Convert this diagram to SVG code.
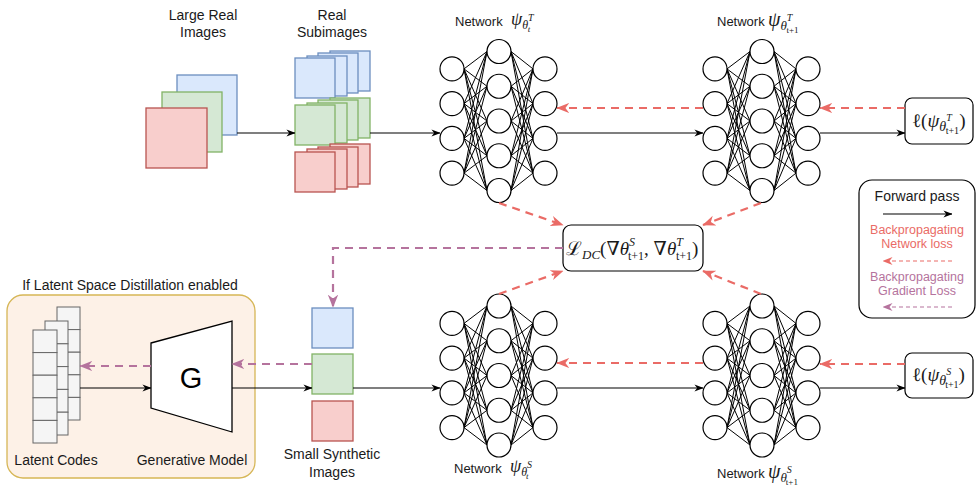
<svg xmlns="http://www.w3.org/2000/svg" xmlns:xlink="http://www.w3.org/1999/xlink" width="980" height="489" viewBox="0 0 980 489">
<style>
.t{font-family:"Liberation Sans",Arial,sans-serif;font-size:14px;fill:#1a1a1a}
.tn{font-family:"Liberation Sans",Arial,sans-serif;font-size:13px;fill:#1a1a1a}
.m{font-family:"Liberation Serif","DejaVu Serif",serif;fill:#1a1a1a}
.i{font-style:italic}
.blue{fill:#dae8fc;stroke:#6c8ebf;stroke-width:1.3}
.green{fill:#d5e8d4;stroke:#82b366;stroke-width:1.3}
.red{fill:#f8cecc;stroke:#b85450;stroke-width:1.3}
.cell{fill:#f5f5f5;stroke:#666;stroke-width:1}
.box{fill:#fff;stroke:#000;stroke-width:1.2}
.fw{fill:none;stroke:#000;stroke-width:1.2}
.bn{fill:none;stroke:#ea6b66;stroke-width:2.2;stroke-dasharray:8 6}
.bg{fill:none;stroke:#b5739d;stroke-width:2.2;stroke-dasharray:8 6}
.nc{fill:#fff;stroke:#000;stroke-width:1.2}
.nl{stroke:#000;stroke-width:1}
</style>
<defs>
<marker id="ab" viewBox="0 0 10 10" refX="9.5" refY="5" markerWidth="9" markerHeight="9" markerUnits="userSpaceOnUse" orient="auto"><path d="M0,1 L10,5 L0,9 L3,5 z" fill="#000"/></marker>
<marker id="ar" viewBox="0 0 10 10" refX="9.5" refY="5" markerWidth="13" markerHeight="13" markerUnits="userSpaceOnUse" orient="auto"><path d="M0,1 L10,5 L0,9 L3,5 z" fill="#ea6b66"/></marker>
<marker id="ap" viewBox="0 0 10 10" refX="9.5" refY="5" markerWidth="13" markerHeight="13" markerUnits="userSpaceOnUse" orient="auto"><path d="M0,1 L10,5 L0,9 L3,5 z" fill="#b5739d"/></marker>
<marker id="ars" viewBox="0 0 10 10" refX="9.5" refY="5" markerWidth="10" markerHeight="10" markerUnits="userSpaceOnUse" orient="auto"><path d="M0,1 L10,5 L0,9 L3,5 z" fill="#ea6b66"/></marker>
<marker id="aps" viewBox="0 0 10 10" refX="9.5" refY="5" markerWidth="10" markerHeight="10" markerUnits="userSpaceOnUse" orient="auto"><path d="M0,1 L10,5 L0,9 L3,5 z" fill="#b5739d"/></marker>
<g id="net">
<g class="nl">
<path d="M12,17.4L35,0M12,17.4L35,34.75M12,17.4L35,69.5M12,17.4L35,104.25M12,17.4L35,139
M12,52.1L35,0M12,52.1L35,34.75M12,52.1L35,69.5M12,52.1L35,104.25M12,52.1L35,139
M12,86.9L35,0M12,86.9L35,34.75M12,86.9L35,69.5M12,86.9L35,104.25M12,86.9L35,139
M12,121.6L35,0M12,121.6L35,34.75M12,121.6L35,69.5M12,121.6L35,104.25M12,121.6L35,139
M59,0L81,17.4M59,34.75L81,17.4M59,69.5L81,17.4M59,104.25L81,17.4M59,139L81,17.4
M59,0L81,52.1M59,34.75L81,52.1M59,69.5L81,52.1M59,104.25L81,52.1M59,139L81,52.1
M59,0L81,86.9M59,34.75L81,86.9M59,69.5L81,86.9M59,104.25L81,86.9M59,139L81,86.9
M59,0L81,121.6M59,34.75L81,121.6M59,69.5L81,121.6M59,104.25L81,121.6M59,139L81,121.6"/>
</g>
<circle class="nc" cx="0" cy="17.4" r="12"/><circle class="nc" cx="0" cy="52.1" r="12"/><circle class="nc" cx="0" cy="86.9" r="12"/><circle class="nc" cx="0" cy="121.6" r="12"/>
<circle class="nc" cx="47" cy="0" r="12"/><circle class="nc" cx="47" cy="34.75" r="12"/><circle class="nc" cx="47" cy="69.5" r="12"/><circle class="nc" cx="47" cy="104.25" r="12"/><circle class="nc" cx="47" cy="139" r="12"/>
<circle class="nc" cx="93" cy="17.4" r="12"/><circle class="nc" cx="93" cy="52.1" r="12"/><circle class="nc" cx="93" cy="86.9" r="12"/><circle class="nc" cx="93" cy="121.6" r="12"/>
</g>
</defs>
<rect width="980" height="489" fill="#fff"/>

<!-- Large real images -->
<g id="large-real">
<rect class="blue" x="177" y="75" width="60" height="60"/>
<rect class="green" x="162" y="92" width="60" height="60"/>
<rect class="red" x="146" y="108" width="61" height="60"/>
<text class="t" x="203" y="19.5" text-anchor="middle">Large Real</text>
<text class="t" x="203" y="36.5" text-anchor="middle">Images</text>
</g>

<!-- Real subimages -->
<g id="real-sub">
<rect class="blue" x="330" y="51" width="40" height="40"/><rect class="blue" x="318" y="53" width="40" height="40"/><rect class="blue" x="307" y="56" width="40" height="40"/><rect class="blue" x="295" y="58" width="40" height="40"/>
<rect class="green" x="330" y="98" width="40" height="40"/><rect class="green" x="318" y="100" width="40" height="40"/><rect class="green" x="307" y="103" width="40" height="40"/><rect class="green" x="295" y="105" width="40" height="40"/>
<rect class="red" x="330" y="144" width="40" height="40"/><rect class="red" x="318" y="147" width="40" height="40"/><rect class="red" x="307" y="149" width="40" height="40"/><rect class="red" x="295" y="152" width="40" height="40"/>
<text class="t" x="332" y="19.5" text-anchor="middle">Real</text>
<text class="t" x="332" y="36.5" text-anchor="middle">Subimages</text>
</g>

<!-- Networks -->
<g id="net-t"><use xlink:href="#net" href="#net" x="452" y="51.5"/>
<text class="tn" x="455" y="26">Network</text>
<text class="m i" x="511" y="25" font-size="18">ψ<tspan font-size="12" dy="4">θ</tspan><tspan font-size="10" dy="-8">T</tspan><tspan font-size="9" dx="-6" dy="11">t</tspan></text>
</g>
<g id="net-t1"><use xlink:href="#net" href="#net" x="715" y="51.5"/>
<text class="tn" x="717" y="26">Network</text>
<text class="m i" x="768" y="26" font-size="20">ψ<tspan font-size="13" dy="4">θ</tspan><tspan font-size="10" dy="-9">T</tspan><tspan font-size="9" dx="-6" dy="12" font-style="normal">t+1</tspan></text>
</g>
<g id="net-s"><use xlink:href="#net" href="#net" x="452" y="306"/>
<text class="tn" x="454" y="473">Network</text>
<text class="m i" x="510" y="472" font-size="18">ψ<tspan font-size="12" dy="4">θ</tspan><tspan font-size="10" dy="-8">S</tspan><tspan font-size="9" dx="-6" dy="11">t</tspan></text>
</g>
<g id="net-s1"><use xlink:href="#net" href="#net" x="715" y="306"/>
<text class="tn" x="717" y="478">Network</text>
<text class="m i" x="768" y="478" font-size="20">ψ<tspan font-size="13" dy="4">θ</tspan><tspan font-size="10" dy="-9">S</tspan><tspan font-size="9" dx="-6" dy="12" font-style="normal">t+1</tspan></text>
</g>

<!-- Loss boxes -->
<g id="loss-t">
<rect class="box" x="905" y="98" width="68" height="46" rx="7"/>
<text class="m" x="912" y="127" font-size="19">ℓ(<tspan class="i">ψ</tspan><tspan class="i" font-size="14" dy="4">θ</tspan><tspan class="i" font-size="10" dy="-10">T</tspan><tspan font-size="10" dx="-6" dy="13">t+1</tspan><tspan dy="-7">)</tspan></text>
</g>
<g id="loss-s">
<rect class="box" x="905" y="353" width="68" height="45" rx="7"/>
<text class="m" x="912" y="381" font-size="19">ℓ(<tspan class="i">ψ</tspan><tspan class="i" font-size="14" dy="4">θ</tspan><tspan class="i" font-size="10" dy="-10">S</tspan><tspan font-size="10" dx="-6" dy="13">t+1</tspan><tspan dy="-7">)</tspan></text>
</g>

<!-- Central DC loss -->
<g id="dc-loss">
<rect class="box" x="563" y="225" width="140" height="46" rx="8"/>
<text class="m" x="566" y="255" font-size="19">ℒ<tspan class="i" font-size="13" dy="4">DC</tspan><tspan dy="-4">(∇</tspan><tspan class="i">θ</tspan><tspan class="i" font-size="12" dy="-9">S</tspan><tspan font-size="12" dx="-7" dy="14">t+1</tspan><tspan dy="-5">, ∇</tspan><tspan class="i">θ</tspan><tspan class="i" font-size="12" dy="-9">T</tspan><tspan font-size="12" dx="-7" dy="14">t+1</tspan><tspan dy="-5">)</tspan></text>
</g>

<!-- Legend -->
<g id="legend">
<rect class="box" x="859" y="180" width="116" height="138" rx="13"/>
<text class="t" x="917" y="201" text-anchor="middle">Forward pass</text>
<line class="fw" x1="883" y1="214" x2="952" y2="214" marker-end="url(#ab)"/>
<text x="917" y="234" text-anchor="middle" style="font-family:'Liberation Sans',Arial,sans-serif;font-size:12.5px;fill:#ea6b66">Backpropagating</text>
<text x="917" y="248" text-anchor="middle" style="font-family:'Liberation Sans',Arial,sans-serif;font-size:12.5px;fill:#ea6b66">Network loss</text>
<line x1="952" y1="261" x2="883" y2="261" stroke="#ea6b66" stroke-width="1.2" stroke-dasharray="4 3" marker-end="url(#ars)"/>
<text x="917" y="281" text-anchor="middle" style="font-family:'Liberation Sans',Arial,sans-serif;font-size:12.5px;fill:#b5739d">Backpropagating</text>
<text x="917" y="295" text-anchor="middle" style="font-family:'Liberation Sans',Arial,sans-serif;font-size:12.5px;fill:#b5739d">Gradient Loss</text>
<line x1="952" y1="307" x2="883" y2="307" stroke="#b5739d" stroke-width="1.2" stroke-dasharray="4 3" marker-end="url(#aps)"/>
</g>

<!-- Latent space container -->
<g id="latent-container">
<rect x="7" y="295" width="248" height="183" rx="16" fill="#fdf1e7" stroke="#d6b656" stroke-width="1.3"/>
<text class="t" x="130" y="290" text-anchor="middle">If Latent Space Distillation enabled</text>
</g>
<g id="latent-codes">
<rect class="cell" x="57" y="307" width="23" height="22.6"/><rect class="cell" x="57" y="329.6" width="23" height="22.6"/><rect class="cell" x="57" y="352.2" width="23" height="22.6"/><rect class="cell" x="57" y="374.8" width="23" height="22.6"/><rect class="cell" x="57" y="397.4" width="23" height="22.6"/>
<rect class="cell" x="45" y="321" width="23" height="22.8"/><rect class="cell" x="45" y="343.8" width="23" height="22.8"/><rect class="cell" x="45" y="366.6" width="23" height="22.8"/><rect class="cell" x="45" y="389.4" width="23" height="22.8"/><rect class="cell" x="45" y="412.2" width="23" height="22.8"/>
<rect class="cell" x="33" y="330" width="24" height="22.6"/><rect class="cell" x="33" y="352.6" width="24" height="22.6"/><rect class="cell" x="33" y="375.2" width="24" height="22.6"/><rect class="cell" x="33" y="397.8" width="24" height="22.6"/><rect class="cell" x="33" y="420.4" width="24" height="22.6"/>
<text class="t" x="56" y="464.5" text-anchor="middle">Latent Codes</text>
</g>
<g id="generator">
<path d="M151,343 L232,321 L232,432 L151,408 Z" fill="#fff" stroke="#000" stroke-width="1.3"/>
<text x="191" y="388" text-anchor="middle" style="font-family:'Liberation Sans',Arial,sans-serif;font-size:29px;fill:#000">G</text>
<text class="t" x="192" y="464.5" text-anchor="middle">Generative Model</text>
</g>

<!-- Small synthetic images -->
<g id="syn">
<rect class="blue" x="312" y="308" width="41" height="40"/>
<rect class="green" x="312" y="354" width="41" height="40"/>
<rect class="red" x="312" y="401" width="41" height="40"/>
<text class="t" x="332" y="459" text-anchor="middle">Small Synthetic</text>
<text class="t" x="332" y="477" text-anchor="middle">Images</text>
</g>

<!-- Connectors -->
<g id="connectors">
<line class="fw" x1="237" y1="133" x2="295" y2="133" marker-end="url(#ab)"/>
<line class="fw" x1="370" y1="133" x2="440" y2="133" marker-end="url(#ab)"/>
<line class="fw" x1="557" y1="133" x2="703" y2="133" marker-end="url(#ab)"/>
<line class="fw" x1="820" y1="133" x2="905" y2="133" marker-end="url(#ab)"/>
<line class="bn" x1="905" y1="108" x2="820" y2="108" marker-end="url(#ar)"/>
<line class="bn" x1="703" y1="108" x2="557" y2="108" marker-end="url(#ar)"/>
<line class="bn" x1="499" y1="203" x2="563" y2="225" marker-end="url(#ar)"/>
<line class="bn" x1="761" y1="203" x2="703" y2="225" marker-end="url(#ar)"/>
<line class="bn" x1="499" y1="294" x2="563" y2="271" marker-end="url(#ar)"/>
<line class="bn" x1="761" y1="294" x2="703" y2="271" marker-end="url(#ar)"/>
<path class="bg" d="M563,248 L333,248 L333,307" marker-end="url(#ap)"/>
<line class="fw" x1="80" y1="388" x2="151" y2="388" marker-end="url(#ab)"/>
<line class="bg" x1="151" y1="366" x2="80" y2="366" marker-end="url(#ap)"/>
<line class="fw" x1="232" y1="388" x2="312" y2="388" marker-end="url(#ab)"/>
<line class="bg" x1="312" y1="364" x2="232" y2="364" marker-end="url(#ap)"/>
<line class="fw" x1="353" y1="388" x2="440" y2="388" marker-end="url(#ab)"/>
<line class="fw" x1="557" y1="388" x2="703" y2="388" marker-end="url(#ab)"/>
<line class="bn" x1="703" y1="363" x2="557" y2="363" marker-end="url(#ar)"/>
<line class="fw" x1="820" y1="388" x2="905" y2="388" marker-end="url(#ab)"/>
<line class="bn" x1="905" y1="364" x2="820" y2="364" marker-end="url(#ar)"/>
</g>
</svg>
